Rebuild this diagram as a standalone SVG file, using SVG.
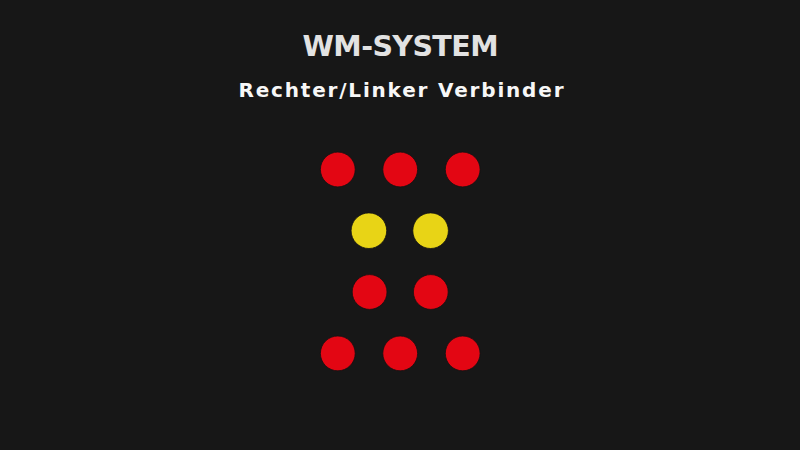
<svg xmlns="http://www.w3.org/2000/svg" width="800" height="450" viewBox="0 0 800 450">
<style>
.title{font-family:"DejaVu Sans","Liberation Sans",Arial,sans-serif;font-weight:bold;font-size:28.5px;fill:#e2e2e2;text-anchor:middle}
.sub{font-family:"DejaVu Sans","Liberation Sans",Arial,sans-serif;font-weight:bold;font-size:20px;fill:#f7f7f7;text-anchor:middle}
.red{fill:#e30613;stroke:#111;stroke-width:0.8}
.yel{fill:#e8d416;stroke:#111;stroke-width:0.8}
</style>
<rect width="800" height="450" fill="#171717"/>
<g id="title"><text class="title" x="400.5" y="55.5" textLength="196" lengthAdjust="spacing">WM-SYSTEM</text></g>
<g id="subtitle"><text class="sub" x="401" y="97.3" textLength="325" lengthAdjust="spacing">Rechter/Linker Verbinder</text></g>
<g id="r1c1"><circle class="red" cx="337.8" cy="169.5" r="17.4"/></g>
<g id="r1c2"><circle class="red" cx="400.2" cy="169.5" r="17.4"/></g>
<g id="r1c3"><circle class="red" cx="462.7" cy="169.5" r="17.4"/></g>
<g id="r2c1"><circle class="yel" cx="368.9" cy="230.7" r="17.8"/></g>
<g id="r2c2"><circle class="yel" cx="430.6" cy="230.7" r="17.8"/></g>
<g id="r3c1"><circle class="red" cx="369.6" cy="292" r="17.4"/></g>
<g id="r3c2"><circle class="red" cx="430.8" cy="292" r="17.4"/></g>
<g id="r4c1"><circle class="red" cx="337.8" cy="353.4" r="17.4"/></g>
<g id="r4c2"><circle class="red" cx="400.2" cy="353.4" r="17.4"/></g>
<g id="r4c3"><circle class="red" cx="462.7" cy="353.4" r="17.4"/></g>
</svg>
